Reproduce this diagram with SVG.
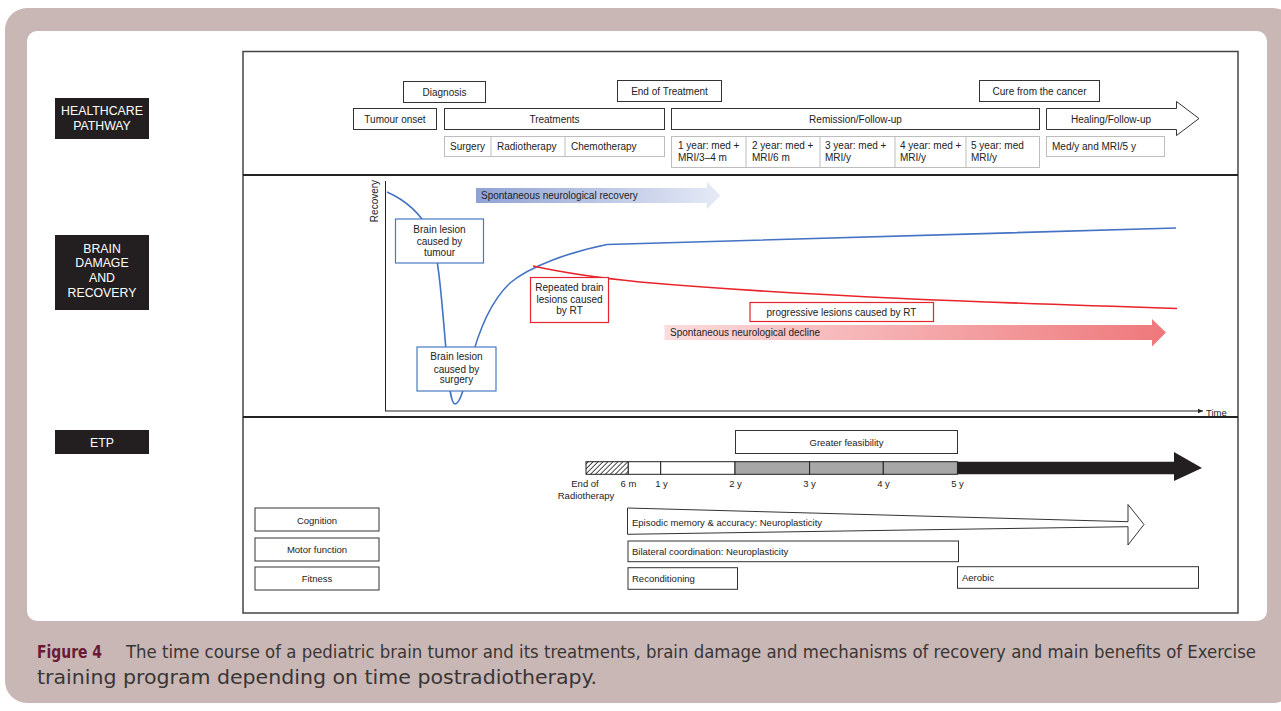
<svg xmlns="http://www.w3.org/2000/svg" width="1281" height="711" viewBox="0 0 1281 711">
<style>
.box{fill:#fff;stroke:#333;stroke-width:1}
.cell{fill:#fff;stroke:#bdbdbd;stroke-width:1}
.t{font-family:"Liberation Sans",Arial,sans-serif;font-size:10px;fill:#222}
.c{text-anchor:middle}
.e{font-size:9.5px}
.lbl{font-family:"Liberation Sans",Arial,sans-serif;font-size:12.3px;fill:#fff;text-anchor:middle}
.lblbox{fill:#231f20}
.bbox{fill:#fff;stroke:#4a78c2;stroke-width:1.2}
.rbox{fill:#fff;stroke:#e3262d;stroke-width:1.2}
.cap{font-family:"DejaVu Sans Condensed","DejaVu Sans",sans-serif;font-stretch:condensed;font-size:18px;fill:#3a3535}
</style>
<defs>
<pattern id="hatch" width="3.5" height="3.5" patternUnits="userSpaceOnUse" patternTransform="rotate(45)"><rect width="3.5" height="3.5" fill="#fff"/><line x1="0" y1="0" x2="0" y2="3.5" stroke="#222" stroke-width="1.6"/></pattern>
<linearGradient id="gBlue" x1="0" y1="0" x2="1" y2="0"><stop offset="0" stop-color="#8fa2d4"/><stop offset="1" stop-color="#e6eaf6"/></linearGradient>
<linearGradient id="gRed" x1="0" y1="0" x2="1" y2="0"><stop offset="0" stop-color="#fbdcdd"/><stop offset="1" stop-color="#ee787b"/></linearGradient>
<marker id="ax" markerWidth="6" markerHeight="6" refX="5" refY="3" orient="auto" markerUnits="userSpaceOnUse"><path d="M0,0.8 L5,3 L0,5.2 Z" fill="#222"/></marker>
</defs>

<rect width="1281" height="711" fill="#fff"/>
<rect x="5" y="8" width="1290" height="695" rx="22" fill="#c9b7b6"/>
<rect x="27" y="31" width="1240" height="590" rx="10" fill="#fff"/>

<!-- main frame -->
<rect x="243" y="51.5" width="995" height="561.5" fill="none" stroke="#444" stroke-width="1.5"/>
<line x1="243" y1="175" x2="1238" y2="175" stroke="#222" stroke-width="2.2"/>
<line x1="243" y1="417" x2="1238" y2="417" stroke="#222" stroke-width="2.2"/>

<!-- section labels -->
<g id="lbl-healthcare"><rect class="lblbox" x="55" y="98" width="94" height="41"/><text class="lbl" x="102" y="114.5">HEALTHCARE</text><text class="lbl" x="102" y="129.5">PATHWAY</text></g>
<g id="lbl-brain"><rect class="lblbox" x="55" y="235" width="94" height="75"/><text class="lbl" x="102" y="252.5">BRAIN</text><text class="lbl" x="102" y="266.5">DAMAGE</text><text class="lbl" x="102" y="281.5">AND</text><text class="lbl" x="102" y="296.5">RECOVERY</text></g>
<g id="lbl-etp"><rect class="lblbox" x="55" y="430" width="94" height="24"/><text class="lbl" x="102" y="446.5">ETP</text></g>

<!-- healthcare pathway -->
<g id="diagnosis"><rect class="box" x="403.5" y="81.5" width="82" height="21"/><text class="t c" x="444.5" y="95.5">Diagnosis</text></g>
<g id="tumour-onset"><rect class="box" x="353.5" y="108.5" width="83" height="21"/><text class="t c" x="395" y="122.5">Tumour onset</text></g>
<g id="treatments"><rect class="box" x="444.5" y="108.5" width="220" height="21"/><text class="t c" x="554.5" y="122.5">Treatments</text></g>
<g id="end-treatment"><rect class="box" x="617.5" y="80.5" width="104" height="21"/><text class="t c" x="669.5" y="94.5">End of Treatment</text></g>
<g id="remission"><rect class="box" x="671.5" y="108.5" width="368" height="21"/><text class="t c" x="855.5" y="122.5">Remission/Follow-up</text></g>
<g id="cure"><rect class="box" x="979.5" y="80.5" width="120" height="21"/><text class="t c" x="1039.5" y="94.5">Cure from the cancer</text></g>
<g id="healing"><path class="box" d="M1046.5,108.5 H1176.5 V101.5 L1199,118.5 L1176.5,135.5 V129.5 H1046.5 Z"/><text class="t c" x="1111" y="122.5">Healing/Follow-up</text></g>

<g id="treat-cells">
<rect class="cell" x="444.5" y="136.5" width="220" height="20"/>
<line x1="491" y1="136.5" x2="491" y2="156.5" stroke="#bdbdbd"/>
<line x1="565" y1="136.5" x2="565" y2="156.5" stroke="#bdbdbd"/>
<text class="t" x="450" y="150">Surgery</text>
<text class="t" x="497" y="150">Radiotherapy</text>
<text class="t" x="571" y="150">Chemotherapy</text>
</g>
<g id="followup-cells">
<rect class="cell" x="671.5" y="136.5" width="368" height="31"/>
<line x1="746" y1="136.5" x2="746" y2="167.5" stroke="#bdbdbd"/>
<line x1="820" y1="136.5" x2="820" y2="167.5" stroke="#bdbdbd"/>
<line x1="895" y1="136.5" x2="895" y2="167.5" stroke="#bdbdbd"/>
<line x1="966" y1="136.5" x2="966" y2="167.5" stroke="#bdbdbd"/>
<text class="t" x="678" y="149">1 year: med +</text><text class="t" x="678" y="161">MRI/3–4 m</text>
<text class="t" x="752" y="149">2 year: med +</text><text class="t" x="752" y="161">MRI/6 m</text>
<text class="t" x="825" y="149">3 year: med +</text><text class="t" x="825" y="161">MRI/y</text>
<text class="t" x="900" y="149">4 year: med +</text><text class="t" x="900" y="161">MRI/y</text>
<text class="t" x="971" y="149">5 year: med</text><text class="t" x="971" y="161">MRI/y</text>
</g>
<g id="med-cell"><rect class="cell" x="1046.5" y="136.5" width="118" height="20"/><text class="t" x="1052" y="150">Med/y and MRI/5 y</text></g>

<!-- brain damage graph -->
<g id="connectors">
<line x1="385.5" y1="181" x2="385.5" y2="411" stroke="#222" stroke-width="1"/>
<line x1="385" y1="411" x2="1203" y2="411" stroke="#222" stroke-width="1" marker-end="url(#ax)"/>
<path d="M387,192 C405,200 420,212 430,232 C438,252 441,290 446,350 C449,388 451,404 455,404 C460,404 464,388 470,365 C478,332 490,302 510,283 C530,266 570,252 607,244.5 L1176,228" fill="none" stroke="#4472c4" stroke-width="1.6"/>
<path d="M533,266 C560,272 600,278 640,282 C800,296 1000,303 1177,308.5" fill="none" stroke="#e8232a" stroke-width="1.6"/>
</g>
<text class="t" transform="translate(378,201) rotate(-90)" text-anchor="middle">Recovery</text>
<text class="t e" x="1206" y="416">Time</text>

<g id="recovery-arrow"><path d="M476,188 H707 V182 L720.5,195.5 L707,209 V203 H476 Z" fill="url(#gBlue)"/><text class="t" x="481" y="199">Spontaneous neurological recovery</text></g>
<g id="decline-arrow"><path d="M664.5,325 H1152 V319 L1166,332.5 L1152,346.5 V340 H664.5 Z" fill="url(#gRed)"/><text class="t" x="670" y="336">Spontaneous neurological decline</text></g>

<g id="lesion-tumour"><rect class="bbox" x="395.5" y="219" width="88" height="44"/><text class="t c" x="439.5" y="232.5">Brain lesion</text><text class="t c" x="439.5" y="244.5">caused by</text><text class="t c" x="439.5" y="256">tumour</text></g>
<g id="lesion-surgery"><rect class="bbox" x="417" y="347" width="79" height="44"/><text class="t c" x="456.5" y="360">Brain lesion</text><text class="t c" x="456.5" y="372.5">caused by</text><text class="t c" x="456.5" y="383">surgery</text></g>
<g id="lesion-rt"><rect class="rbox" x="530.5" y="277.5" width="78" height="45"/><text class="t c" x="569.5" y="291">Repeated brain</text><text class="t c" x="569.5" y="302.5">lesions caused</text><text class="t c" x="569.5" y="314">by RT</text></g>
<g id="progressive"><rect class="rbox" x="750" y="302.5" width="183.5" height="19"/><text class="t c" x="841.5" y="315.5">progressive lesions caused by RT</text></g>

<!-- ETP -->
<g id="feasibility"><rect class="box" x="735.5" y="430.5" width="222" height="23"/><text class="t e c" x="846.5" y="445.5">Greater feasibility</text></g>
<g id="timeline">
<rect x="586" y="461.7" width="42.3" height="12.6" fill="url(#hatch)" stroke="#222" stroke-width="1"/>
<rect x="628.3" y="461.7" width="32.4" height="12.6" fill="#fff" stroke="#222" stroke-width="1"/>
<rect x="660.7" y="461.7" width="74.3" height="12.6" fill="#fff" stroke="#222" stroke-width="1"/>
<rect x="735" y="461.7" width="74.6" height="12.6" fill="#a7a7a7" stroke="#222" stroke-width="1"/>
<rect x="809.6" y="461.7" width="73.7" height="12.6" fill="#a7a7a7" stroke="#222" stroke-width="1"/>
<rect x="883.3" y="461.7" width="74.1" height="12.6" fill="#a7a7a7" stroke="#222" stroke-width="1"/>
<path d="M957.4,461.7 H1174 V452 L1202,468 L1174,481 V474.3 H957.4 Z" fill="#231f20"/>
<text class="t e c" x="585" y="486.5">End of</text>
<text class="t e c" x="586" y="498.5">Radiotherapy</text>
<text class="t e c" x="628.5" y="486.5">6 m</text>
<text class="t e c" x="661.5" y="486.5">1 y</text>
<text class="t e c" x="735.5" y="486.5">2 y</text>
<text class="t e c" x="809.5" y="486.5">3 y</text>
<text class="t e c" x="883.5" y="486.5">4 y</text>
<text class="t e c" x="957.5" y="486.5">5 y</text>
</g>
<g id="cognition"><rect class="box" x="255" y="508" width="124" height="23"/><text class="t e c" x="317" y="523.5">Cognition</text></g>
<g id="motor"><rect class="box" x="255" y="538" width="124" height="23"/><text class="t e c" x="317" y="553">Motor function</text></g>
<g id="fitness"><rect class="box" x="255" y="567" width="124" height="23"/><text class="t e c" x="317" y="582">Fitness</text></g>
<g id="episodic"><path class="box" d="M627.5,508 L1128,521.7 V504.5 L1144,524.5 L1128,545 V526.7 L627.5,534.3 Z"/><text class="t e" x="632" y="526">Episodic memory &amp; accuracy: Neuroplasticity</text></g>
<g id="bilateral"><rect class="box" x="628" y="541" width="330.5" height="20.7"/><text class="t e" x="632" y="555">Bilateral coordination: Neuroplasticity</text></g>
<g id="recond"><rect class="box" x="628" y="567.7" width="109.5" height="21.6"/><text class="t e" x="632" y="582">Reconditioning</text></g>
<g id="aerobic"><rect class="box" x="957.5" y="566.7" width="241" height="21.6"/><text class="t e" x="962" y="581">Aerobic</text></g>

<!-- caption -->
<text class="cap" x="37" y="658" font-weight="bold" style="fill:#6b1a35" textLength="65" lengthAdjust="spacingAndGlyphs">Figure 4</text>
<text class="cap" x="126" y="658" textLength="1130" lengthAdjust="spacingAndGlyphs">The time course of a pediatric brain tumor and its treatments, brain damage and mechanisms of recovery and main benefits of Exercise</text>
<text class="cap" x="37" y="684" style="font-size:19px" textLength="560" lengthAdjust="spacingAndGlyphs">training program depending on time postradiotherapy.</text>
</svg>
